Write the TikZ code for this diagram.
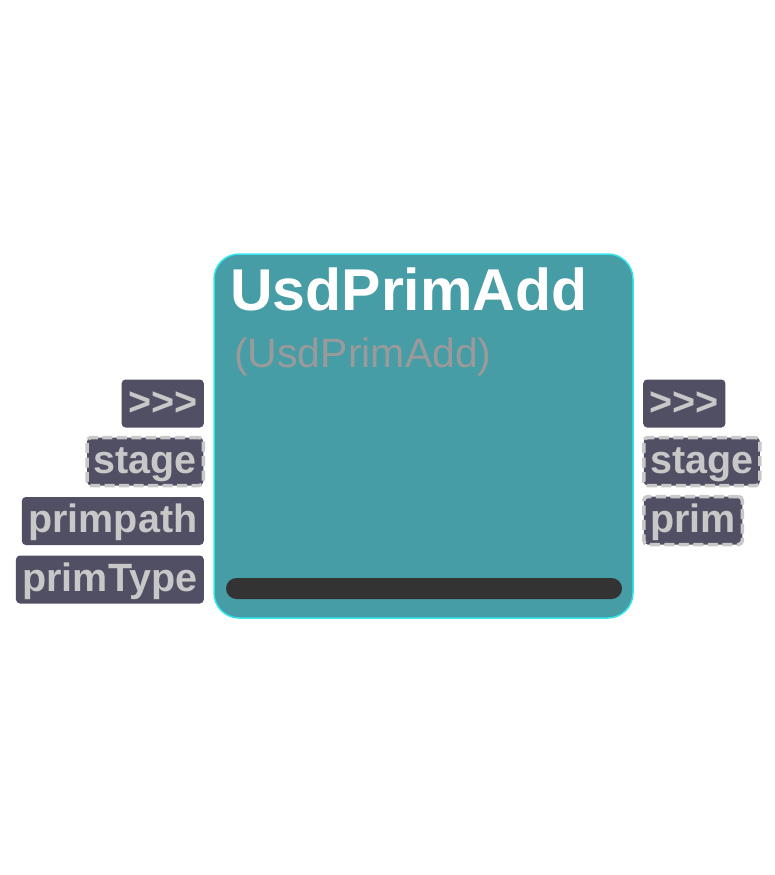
\documentclass[tikz,border=0pt]{standalone}
\usepackage{fontspec}
\setmainfont{Liberation Sans}
\newfontfamily\portfont{Liberation Sans}
\usetikzlibrary{positioning}

\definecolor{nodefill}{HTML}{469DA6}
\definecolor{nodeedge}{HTML}{35E6EF}
\definecolor{portfill}{HTML}{504F64}
\definecolor{porttext}{HTML}{C8C8C8}
\definecolor{subtext}{HTML}{9A9A9A}
\definecolor{barfill}{HTML}{333333}

\begin{document}
\begin{tikzpicture}[x=1pt, y=-1pt]
        % Define styles for shapes
        \tikzstyle{nodebox} = [draw=nodeedge, line width=1.5pt, fill=nodefill, rounded corners=25pt, minimum width=419pt, minimum height=364pt, inner sep=0pt]
        \tikzstyle{barbox} = [fill=barfill, rounded corners=10.5pt, minimum width=396pt, minimum height=21pt, inner sep=0pt]
        \tikzstyle{port} = [fill=portfill, rounded corners=4pt, text=porttext, font=\portfont\fontsize{39.5}{39.5}\selectfont\bfseries, text height=29pt, text depth=6pt, inner xsep=6.5pt, inner ysep=6.5pt]
        \tikzstyle{dashport} = [port, draw=porttext, line width=3.5pt, dash pattern=on 10pt off 4.5pt]
        \useasboundingbox (0,0) rectangle (775,875);

        % Draw the node body
        \node[nodebox] (body) at (423.5, 436) {};
        \node[anchor=base west, inner sep=0pt, text=white, font=\fontsize{59}{59}\selectfont\bfseries] (title) at (230, 310) {UsdPrimAdd};
        \node[anchor=base west, inner sep=0pt, text=subtext, font=\fontsize{41}{41}\selectfont] (subtitle) at (234, 367) {(UsdPrimAdd)};
        \node[barbox] (bar) at (424, 588.5) {};

        % Draw input ports
        \node[port, anchor=east] (inexec) at (204, 403.5) {>>>};
        \node[dashport, anchor=east] (instage) at (205, 461.5) {stage};
        \node[port, anchor=east] (inpath) at (204, 521) {primpath};
        \node[port, anchor=east] (intype) at (204, 579.5) {primType};

        % Draw output ports
        \node[port, anchor=west] (outexec) at (643, 403.5) {>>>};
        \node[dashport, anchor=west] (outstage) at (642, 461.5) {stage};
        \node[dashport, anchor=west] (outprim) at (642, 520.5) {prim};
    \end{tikzpicture}
\end{document}
